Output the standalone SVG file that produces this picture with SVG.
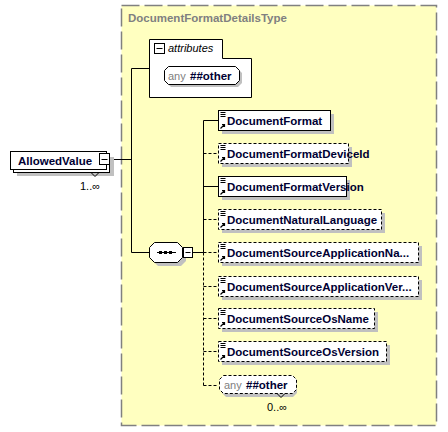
<svg xmlns="http://www.w3.org/2000/svg" width="448" height="432" viewBox="0 0 448 432">
<defs>
<style>
.lbl{font-family:"Liberation Sans",Arial,sans-serif;font-weight:bold;font-size:11.5px;fill:#000033}
.ttl{font-family:"Liberation Sans",Arial,sans-serif;font-weight:bold;font-size:11.5px;fill:#808080}
.sm{font-family:"Liberation Sans",Arial,sans-serif;font-size:11px;fill:#000}
.any{font-family:"Liberation Sans",Arial,sans-serif;font-size:11px;fill:#808080}
.box{fill:#fff;stroke:#000;stroke-width:1}
.opt{fill:#fff;stroke:#000;stroke-width:1;stroke-dasharray:3,2}
.sh{fill:#c0c0c0}
.ln{stroke:#000;stroke-width:1;fill:none}
.dl{stroke:#000;stroke-width:1;fill:none;stroke-dasharray:3,2}
</style>
<g id="ico">
<path d="M2.5 2.5h5M2.5 4.5h5M2.5 6.5h5" stroke="#000" stroke-width="1"/>
<path d="M2.5 18.5l4-4M4 14.5h2.5v2.5" stroke="#000" stroke-width="1.2" fill="none"/>
</g>
</defs>
<rect x="121.5" y="5.5" width="315" height="420" fill="#ffffc0" stroke="#808080" stroke-width="1.5" stroke-dasharray="18,5"/>
<text class="ttl" x="128" y="22">DocumentFormatDetailsType</text>

<g id="connectors">
<path class="ln" d="M110 159.5H131.5M131.5 68.5V252.5M131.5 68.5H149M131.5 252.5H149M193 252.5H203.5M203.5 120.5V252.5M203.5 120.5H218M203.5 186.5H218"/>
<path class="dl" d="M203.5 252.5V385.5M203.5 153.5H218M203.5 219.5H218M203.5 252.5H218M203.5 286.5H218M203.5 318.5H218M203.5 351.5H218M203.5 385.5H218"/>
</g>

<g id="AllowedValue">
<rect class="sh" x="17" y="157" width="97" height="19"/>
<rect class="box" x="13.5" y="154.5" width="96" height="18"/>
<rect class="box" x="10.5" y="151.5" width="96" height="18"/>
<text class="lbl" x="18" y="165">AllowedValue</text>
<rect class="box" x="99.5" y="153.5" width="10" height="11"/>
<path class="ln" d="M101.5 159.5h6"/>
<path class="ln" d="M91 172.5l4 4l4-4"/>
<text class="sm" x="80" y="190">1..∞</text>
</g>

<g id="attributes">
<path d="M149.5 39.5H222.5V58.5H251.5V97.5H149.5Z" fill="#fff" stroke="#000"/>
<rect class="box" x="154.5" y="43.5" width="10" height="10"/>
<path class="ln" d="M156.5 48.5h6"/>
<text class="sm" x="168" y="52" font-style="italic">attributes</text>
<path d="M171 69h67l4 4v10l-4 4h-67l-4-4v-10z" class="sh"/>
<path d="M168.5 66.5h67l4 4v10l-4 4h-67l-4-4v-10z" fill="#fff" stroke="#000"/>
<text class="any" x="168" y="80">any</text>
<text class="lbl" x="190" y="80">##other</text>
</g>

<g id="sequence">
<path class="sh" d="M158 246h23l5 5v10l-5 5h-23l-5-5v-10z"/>
<path d="M154.5 242.5h23l5 5v10l-5 5h-23l-5-5v-10z" fill="#fff" stroke="#000"/>
<path class="ln" d="M157 252.5h19"/>
<rect x="159" y="251" width="3" height="3" fill="#000"/>
<rect x="164" y="251" width="3" height="3" fill="#000"/>
<rect x="169" y="251" width="3" height="3" fill="#000"/>
<rect class="box" x="183.5" y="247.5" width="9" height="10"/>
<path class="ln" d="M185.5 252.5h5"/>
</g>

<g id="DocumentFormat">
<rect class="sh" x="222" y="114" width="112" height="20"/>
<rect class="box" x="218.5" y="110.5" width="112" height="20"/>
<use href="#ico" x="218" y="110"/>
<text class="lbl" x="227" y="125">DocumentFormat</text>
</g>
<g id="DocumentFormatDeviceId">
<rect class="sh" x="222" y="147" width="130" height="20"/>
<rect class="opt" x="218.5" y="143.5" width="130" height="20"/>
<use href="#ico" x="218" y="143"/>
<text class="lbl" x="227" y="158">DocumentFormatDeviceId</text>
</g>
<g id="DocumentFormatVersion">
<rect class="sh" x="222" y="180" width="128" height="20"/>
<rect class="box" x="218.5" y="176.5" width="128" height="20"/>
<use href="#ico" x="218" y="176"/>
<text class="lbl" x="227" y="191">DocumentFormatVersion</text>
</g>
<g id="DocumentNaturalLanguage">
<rect class="sh" x="222" y="213" width="163" height="20"/>
<rect class="opt" x="218.5" y="209.5" width="163" height="20"/>
<use href="#ico" x="218" y="209"/>
<text class="lbl" x="227" y="224">DocumentNaturalLanguage</text>
</g>
<g id="DocumentSourceApplicationName">
<rect class="sh" x="222" y="246" width="200" height="20"/>
<rect class="opt" x="218.5" y="242.5" width="200" height="20"/>
<use href="#ico" x="218" y="242"/>
<text class="lbl" x="227" y="257">DocumentSourceApplicationNa...</text>
</g>
<g id="DocumentSourceApplicationVersion">
<rect class="sh" x="222" y="280" width="200" height="20"/>
<rect class="opt" x="218.5" y="276.5" width="200" height="20"/>
<use href="#ico" x="218" y="276"/>
<text class="lbl" x="227" y="291">DocumentSourceApplicationVer...</text>
</g>
<g id="DocumentSourceOsName">
<rect class="sh" x="222" y="312" width="156" height="20"/>
<rect class="opt" x="218.5" y="308.5" width="156" height="20"/>
<use href="#ico" x="218" y="308"/>
<text class="lbl" x="227" y="323">DocumentSourceOsName</text>
</g>
<g id="DocumentSourceOsVersion">
<rect class="sh" x="222" y="345" width="168" height="20"/>
<rect class="opt" x="218.5" y="341.5" width="168" height="20"/>
<use href="#ico" x="218" y="341"/>
<text class="lbl" x="227" y="356">DocumentSourceOsVersion</text>
</g>
<g id="anyOther">
<path class="sh" d="M226 379h67l4 4v10l-4 4h-67l-4-4v-10z"/>
<path class="opt" d="M223.5 375.5h69l4 4v10l-4 4h-69l-4-4v-10z"/>
<text class="any" x="224" y="389">any</text>
<text class="lbl" x="246" y="389">##other</text>
<path class="ln" d="M277 393.5l4 4l4-4"/>
<text class="sm" x="267" y="411">0..∞</text>
</g>
</svg>
